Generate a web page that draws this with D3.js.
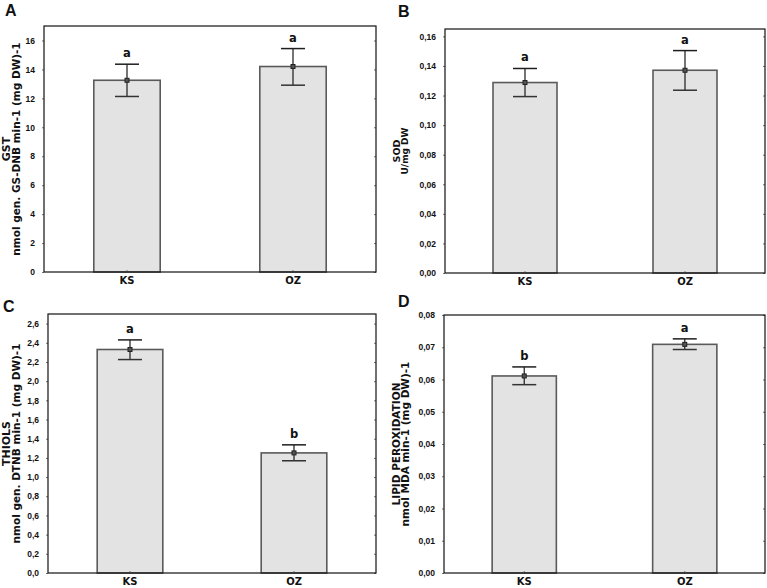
<!DOCTYPE html>
<html><head><meta charset="utf-8">
<script src="https://cdn.jsdelivr.net/npm/d3@7"></script>
<style>
html,body{margin:0;padding:0;background:#fff;}
svg{display:block;}
</style></head>
<body>
<svg id="chart" width="767" height="588"></svg>
<script>
// ---------- data ----------
const categories = ["KS", "OZ"];
const panelLetters = ["A", "B", "C", "D"];

const gstMean = [13.25, 14.2];
const gstLow = [12.13, 12.91];
const gstHigh = [14.36, 15.44];
const gstLetters = ["a", "a"];
const gstTicks = [0, 2, 4, 6, 8, 10, 12, 14, 16];
const gstTitle = ["GST", "nmol gen. GS-DNB min-1 (mg DW)-1"];

const sodMean = [0.1288, 0.1371];
const sodLow = [0.1193, 0.1236];
const sodHigh = [0.1383, 0.1504];
const sodLetters = ["a", "a"];
const sodTicks = [0, 0.02, 0.04, 0.06, 0.08, 0.10, 0.12, 0.14, 0.16];
const sodTitle = ["SOD", "U/mg DW"];

const thiolMean = [2.33, 1.252];
const thiolLow = [2.225, 1.17];
const thiolHigh = [2.43, 1.336];
const thiolLetters = ["a", "b"];
const thiolTicks = [0, 0.2, 0.4, 0.6, 0.8, 1.0, 1.2, 1.4, 1.6, 1.8, 2.0, 2.2, 2.4, 2.6];
const thiolTitle = ["THIOLS", "nmol gen. DTNB min-1 (mg DW)-1"];

const lipidMean = [0.0611, 0.0709];
const lipidLow = [0.0584, 0.0693];
const lipidHigh = [0.0639, 0.0726];
const lipidLetters = ["b", "a"];
const lipidTicks = [0, 0.01, 0.02, 0.03, 0.04, 0.05, 0.06, 0.07, 0.08];
const lipidTitle = ["LIPID PEROXIDATION", "nmol MDA min-1 (mg DW)-1"];

// ---------- layout / styles ----------
const panels = [
  {letter: panelLetters[0], mean: gstMean, low: gstLow, high: gstHigh, sig: gstLetters, ticks: gstTicks, title: gstTitle,
   yMax: 17, dec: 0, box: {l: 44, t: 26, r: 376, b: 272}, lab: {x: 5, y: 15.5}, tx: [9.5, 19.5], tfs: [11, 10.5]},
  {letter: panelLetters[1], mean: sodMean, low: sodLow, high: sodHigh, sig: sodLetters, ticks: sodTicks, title: sodTitle,
   yMax: 0.165, dec: 2, box: {l: 445, t: 29, r: 765, b: 273}, lab: {x: 398, y: 16.5}, tx: [400, 407.5], tfs: [9.5, 9]},
  {letter: panelLetters[2], mean: thiolMean, low: thiolLow, high: thiolHigh, sig: thiolLetters, ticks: thiolTicks, title: thiolTitle,
   yMax: 2.7, dec: 1, box: {l: 48, t: 314, r: 376, b: 573}, lab: {x: 3, y: 312}, tx: [9.5, 19.5], tfs: [11, 10.5]},
  {letter: panelLetters[3], mean: lipidMean, low: lipidLow, high: lipidHigh, sig: lipidLetters, ticks: lipidTicks, title: lipidTitle,
   yMax: 0.08, dec: 2, box: {l: 444, t: 315, r: 765, b: 573}, lab: {x: 398, y: 307}, tx: [400, 409], tfs: [10.5, 10.5]}
];

const svg = d3.select("#chart");
const titleFont = '"DejaVu Sans", Verdana, sans-serif';
const armFont = '"Liberation Sans", Arial, sans-serif';

panels.forEach(p => {
  const B = p.box;
  const x = d3.scaleBand().domain(categories).range([B.l, B.r]).paddingInner(0.6).paddingOuter(0.3);
  const y = d3.scaleLinear().domain([0, p.yMax]).range([B.b, B.t]);
  const fmt = v => d3.format("." + p.dec + "f")(v).replace(".", ",");
  const g = svg.append("g");

  // bars
  const data = categories.map((c, i) => ({c, m: p.mean[i], lo: p.low[i], hi: p.high[i], s: p.sig[i]}));
  g.selectAll("rect.bar").data(data).enter().append("rect")
    .attr("x", d => x(d.c)).attr("width", x.bandwidth())
    .attr("y", d => y(d.m)).attr("height", d => y(0) - y(d.m))
    .attr("fill", "#e3e3e3").attr("stroke", "#5a5a5a").attr("stroke-width", 1.6);

  // error bars
  const cx = d => x(d.c) + x.bandwidth() / 2;
  const cap = 12;
  g.selectAll("line.ev").data(data).enter().append("line")
    .attr("x1", cx).attr("x2", cx).attr("y1", d => y(d.lo)).attr("y2", d => y(d.hi))
    .attr("stroke", "#2a2a2a").attr("stroke-width", 1.3);
  g.selectAll("line.et").data(data).enter().append("line")
    .attr("x1", d => cx(d) - cap).attr("x2", d => cx(d) + cap).attr("y1", d => y(d.hi)).attr("y2", d => y(d.hi))
    .attr("stroke", "#1e1e1e").attr("stroke-width", 1.5);
  g.selectAll("line.eb").data(data).enter().append("line")
    .attr("x1", d => cx(d) - cap).attr("x2", d => cx(d) + cap).attr("y1", d => y(d.lo)).attr("y2", d => y(d.lo))
    .attr("stroke", "#333").attr("stroke-width", 1.5);
  g.selectAll("rect.mk").data(data).enter().append("rect")
    .attr("x", d => cx(d) - 2).attr("y", d => y(d.m) - 2).attr("width", 4).attr("height", 4)
    .attr("fill", "#555").attr("stroke", "#222").attr("stroke-width", 1);

  // significance letters
  g.selectAll("text.sig").data(data).enter().append("text")
    .attr("x", cx).attr("y", d => y(d.hi) - 7)
    .attr("text-anchor", "middle")
    .style("font-family", titleFont).style("font-weight", "bold").style("font-size", "11.5px")
    .attr("fill", "#111").text(d => d.s);

  // axes
  const yl = g.append("g").attr("transform", `translate(${B.l},0)`)
    .call(d3.axisLeft(y).tickValues(p.ticks).tickFormat(fmt).tickSize(2).tickPadding(7));
  yl.select(".domain").remove();
  yl.selectAll(".tick line").attr("stroke", "#777");
  yl.selectAll(".tick text").style("font-family", armFont).style("font-weight", "bold")
    .style("font-size", "8.5px").attr("fill", "#111");
  const yr = g.append("g").attr("transform", `translate(${B.r},0)`)
    .call(d3.axisLeft(y).tickValues(p.ticks).tickFormat("").tickSize(2));
  yr.select(".domain").remove();
  yr.selectAll(".tick line").attr("stroke", "#777");
  const xb = g.append("g").attr("transform", `translate(0,${B.b})`)
    .call(d3.axisTop(x).tickSize(2).tickFormat(""));
  xb.select(".domain").remove();
  xb.selectAll(".tick line").attr("stroke", "#777");
  const xl = g.append("g").attr("transform", `translate(0,${B.b})`)
    .call(d3.axisBottom(x).tickSize(0).tickPadding(5));
  xl.select(".domain").remove();
  xl.selectAll(".tick text").style("font-family", titleFont).style("font-size", "10px")
    .style("font-weight", "bold").attr("fill", "#111");

  // frame
  g.append("rect").attr("x", B.l).attr("y", B.t).attr("width", B.r - B.l).attr("height", B.b - B.t)
    .attr("fill", "none").attr("stroke", "#111").attr("stroke-width", 1.2);

  // y title
  const cy = (B.t + B.b) / 2;
  p.title.forEach((t, i) => {
    g.append("text").attr("transform", `translate(${p.tx[i]},${cy}) rotate(-90)`)
      .attr("text-anchor", "middle")
      .style("font-family", titleFont).style("font-weight", "bold").style("font-size", p.tfs[i] + "px")
      .attr("fill", "#111").text(t);
  });

  // panel letter
  g.append("text").attr("x", p.lab.x).attr("y", p.lab.y)
    .style("font-family", armFont).style("font-weight", "bold").style("font-size", "16px")
    .attr("fill", "#111").text(p.letter);
});
</script>
</body></html>
